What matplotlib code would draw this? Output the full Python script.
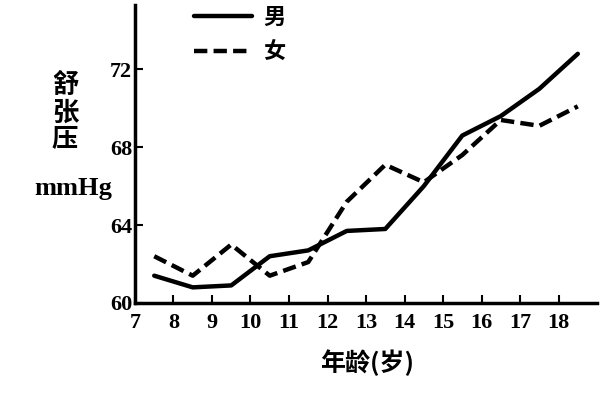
import matplotlib
matplotlib.use("Agg")
import matplotlib.pyplot as plt

ages = [7.5, 8.5, 9.5, 10.5, 11.5, 12.5, 13.5, 14.5, 15.5, 16.5, 17.5, 18.5]
male = [61.4, 60.8, 60.9, 62.4, 62.7, 63.7, 63.8, 66.0, 68.6, 69.6, 71.0, 72.8]
female = [62.4, 61.4, 63.0, 61.4, 62.1, 65.2, 67.1, 66.2, 67.6, 69.4, 69.1, 70.1]
xticks = list(range(7, 19))
yticks = [60, 64, 68, 72]

serif = ['Liberation Serif', 'DejaVu Serif']
cjk = ['Noto Sans CJK SC', 'DejaVu Sans']

fig = plt.figure(figsize=(6.08, 3.96), dpi=100)
ax = fig.add_axes([0.222, 0.235, 0.76, 0.752])
ax.plot(ages, male, color='black', lw=3.2, solid_capstyle='round', label='男')
ax.plot(ages, female, color='black', lw=3.2, ls=(0, (3.0, 1.4)), label='女')
ax.set_xlim(7, 19)
ax.set_ylim(60, 75.3)
ax.set_xticks(xticks)
ax.set_yticks(yticks)
ax.set_xticklabels([str(t) for t in xticks], family=serif, weight='bold', fontsize=16)
ax.set_yticklabels([str(t) for t in yticks], family=serif, weight='bold', fontsize=16)
ax.tick_params(direction='in', length=6, width=1.5)
ax.tick_params(axis='x', pad=7)
ax.tick_params(axis='y', pad=2)
for s in ['top', 'right']:
    ax.spines[s].set_visible(False)
for s in ['left', 'bottom']:
    ax.spines[s].set_linewidth(2.5)

leg = ax.legend(loc='upper left', bbox_to_anchor=(0.085, 1.065), frameon=False,
                handlelength=2.6, handletextpad=0.5, labelspacing=0.55,
                prop={'family': cjk, 'weight': 'bold', 'size': 16})

fig.text(0.107, 0.715, '舒\n张\n压', family=cjk, weight='bold', fontsize=19,
         ha='center', va='center', linespacing=1.0)
fig.text(0.12, 0.525, 'mmHg', family=serif, weight='bold', fontsize=19,
         ha='center', va='center')
fig.text(0.604, 0.085, '年龄(岁)', family=cjk, weight='bold', fontsize=18,
         ha='center', va='center')

fig.savefig('out.png', dpi=100)
